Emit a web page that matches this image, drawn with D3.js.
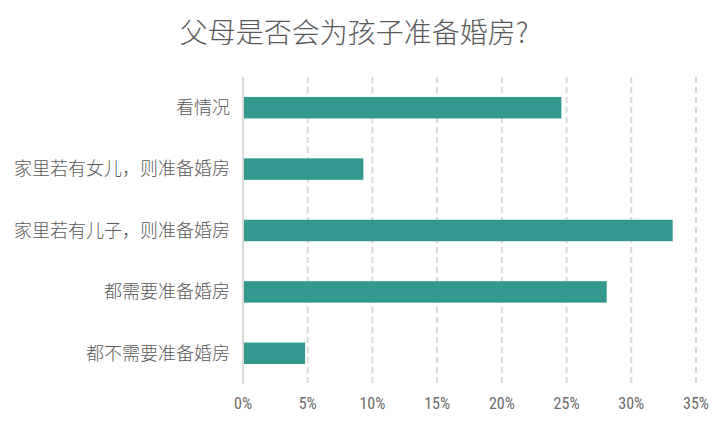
<!DOCTYPE html>
<html>
<head>
<meta charset="utf-8">
<script src="https://cdn.jsdelivr.net/npm/d3@7"></script>
<style>
  html, body { margin: 0; padding: 0; background: #fff; }
  svg { display: block; }
</style>
</head>
<body>
<svg id="chart" width="720" height="432"></svg>
<script>
const title = "父母是否会为孩子准备婚房?";
const categories = ["看情况", "家里若有女儿，则准备婚房", "家里若有儿子，则准备婚房", "都需要准备婚房", "都不需要准备婚房"];
const values = [24.6, 9.3, 33.2, 28.1, 4.8];
const tickValues = [0, 5, 10, 15, 20, 25, 30, 35];
const tickLabels = ["0%", "5%", "10%", "15%", "20%", "25%", "30%", "35%"];

const svg = d3.select("#chart");
const textColor = "#595959";
const cjk = "'Noto Sans CJK SC', 'Noto Sans', sans-serif";

const x = d3.scaleLinear().domain([0, 35]).range([243, 696]);
const y = d3.scaleBand().domain(categories).range([77, 384]).paddingInner(0.65).paddingOuter(0.325);

// title
svg.append("text")
  .attr("x", 354).attr("y", 43)
  .attr("text-anchor", "middle")
  .attr("font-family", cjk)
  .attr("font-size", 28)
  .attr("font-weight", 300)
  .attr("fill", textColor)
  .text(title);

// gridlines
svg.append("g").selectAll("line")
  .data(tickValues.filter(v => v > 0))
  .join("line")
  .attr("x1", d => x(d)).attr("x2", d => x(d))
  .attr("y1", 77).attr("y2", 384)
  .attr("stroke", "#d9d9d9")
  .attr("stroke-width", 2)
  .attr("stroke-dasharray", "6,4");

// bars
svg.append("g").selectAll("rect")
  .data(categories)
  .join("rect")
  .attr("x", x(0))
  .attr("y", d => y(d))
  .attr("width", (d, i) => x(values[i]) - x(0))
  .attr("height", y.bandwidth())
  .attr("fill", "#33998e");

// vertical axis line
svg.append("line")
  .attr("x1", x(0)).attr("x2", x(0))
  .attr("y1", 77).attr("y2", 384)
  .attr("stroke", "#d9d9d9")
  .attr("stroke-width", 2);

// category labels
svg.append("g").selectAll("text")
  .data(categories)
  .join("text")
  .attr("x", 230)
  .attr("y", d => y(d) + y.bandwidth() / 2)
  .attr("dy", "0.35em")
  .attr("text-anchor", "end")
  .attr("font-family", cjk)
  .attr("font-size", 18)
  .attr("font-weight", 300)
  .attr("fill", textColor)
  .text(d => d);

// x tick labels
svg.append("g").selectAll("text")
  .data(tickValues)
  .join("text")
  .attr("x", d => x(d))
  .attr("y", 403)
  .attr("dy", "0.35em")
  .attr("text-anchor", "middle")
  .attr("font-family", "'Liberation Sans Narrow', 'Roboto Condensed', 'DejaVu Sans Condensed', sans-serif")
  .attr("font-size", 16)
  .attr("fill", "#6b6b6b")
  .text((d, i) => tickLabels[i]);
</script>
</body>
</html>
